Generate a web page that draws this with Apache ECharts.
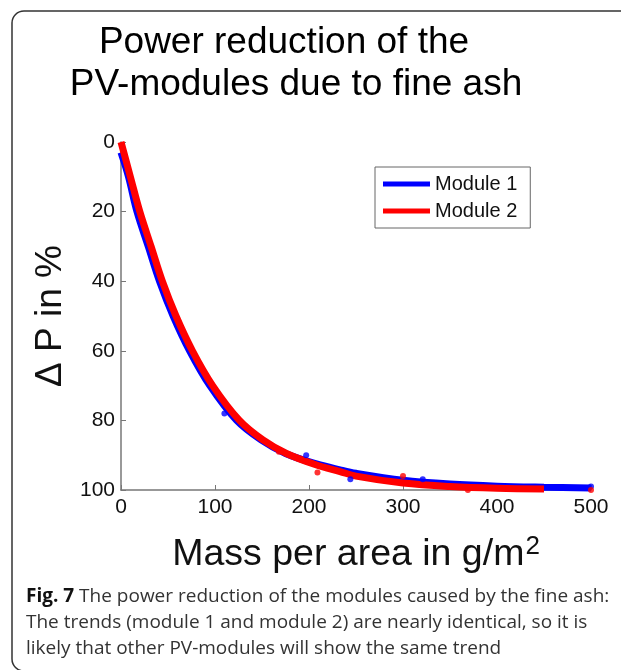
<!DOCTYPE html>
<html>
<head>
<meta charset="utf-8">
<script src="https://cdn.jsdelivr.net/npm/echarts@6/dist/echarts.min.js"></script>
<style>
html,body{margin:0;padding:0;background:#fff;}
#c{width:621px;height:670px;}
</style>
</head>
<body>
<div id="c"></div>
<script>
// ---- data ----
var titleLines = ['Power reduction of the', 'PV-modules due to fine ash'];
var xTicks = [0, 100, 200, 300, 400, 500];
var yTicks = [0, 20, 40, 60, 80, 100];
var seriesNames = ['Module 1', 'Module 2'];

// Module 1 (blue) trend: mass per area (g/m2) and power reduction (%)
var m1Mass = [0, 8, 17, 29, 41, 55.5, 73, 94.5, 123, 149, 175, 208, 233, 250, 300, 350, 400, 450, 500];
var m1dP   = [3, 10, 20, 30, 40, 50, 60, 70, 80, 85.6, 89.5, 92.5, 94.2, 95.2, 97.2, 98.3, 98.9, 99.2, 99.4];
// Module 2 (red) trend
var m2Mass = [0, 10, 20, 32, 44, 58.5, 76, 97.5, 126, 151, 176, 208, 233, 250, 300, 350, 400, 450];
var m2dP   = [0, 10, 20, 30, 40, 50, 60, 70, 80, 85.6, 89.5, 92.8, 94.7, 96, 98, 99, 99.5, 99.7];
// scattered single measurements off the trend
var m1OutMass = [110, 197, 244, 321, 500];
var m1OutdP   = [78, 90, 96.9, 96.9, 99];
var m2OutMass = [168, 209, 300, 369, 500];
var m2OutdP   = [89, 95, 96, 100, 100];

var captionBold = 'Fig. 7';
var captionLines = [
  ' The power reduction of the modules caused by the fine ash:',
  'The trends (module 1 and module 2) are nearly identical, so it is',
  'likely that other PV-modules will show the same trend'
];

function pairs(xs, ys) { return xs.map(function (x, i) { return [x, ys[i]]; }); }

var FONT = '"Liberation Sans", Arial, sans-serif';
var CAP = '"Open Sans", sans-serif';
var chart = echarts.init(document.getElementById('c'), null, {renderer: 'canvas'});

var titleStyle = {fontFamily: FONT, fontSize: 37, fontWeight: 'normal', color: '#000'};

chart.setOption({
  animation: false,
  backgroundColor: '#fff',
  title: [
    {text: titleLines[0], left: 284, top: 24, textAlign: 'center', padding: 0, textStyle: titleStyle},
    {text: titleLines[1], left: 296, top: 66, textAlign: 'center', padding: 0, textStyle: titleStyle}
  ],
  legend: {
    data: seriesNames,
    orient: 'vertical',
    left: 375, top: 167,
    icon: 'rect', itemWidth: 47, itemHeight: 5, itemGap: 7,
    padding: [7, 13, 7, 8],
    borderColor: '#666', borderWidth: 1, backgroundColor: '#fff',
    textStyle: {fontFamily: FONT, fontSize: 20, color: '#111'}
  },
  grid: {left: 121, right: 30, top: 142, bottom: 180, containLabel: false},
  xAxis: {
    type: 'value', min: xTicks[0], max: xTicks[xTicks.length - 1], interval: 100,
    name: 'Mass per area in g/m{sup|2}', nameLocation: 'middle', nameGap: 44,
    nameTextStyle: {fontFamily: FONT, fontSize: 37.5, color: '#111',
      rich: {sup: {fontFamily: FONT, fontSize: 26, color: '#111', verticalAlign: 'top', padding: [0, 0, 16, 1]}}},
    axisLine: {show: true, onZero: false, lineStyle: {color: '#777', width: 1.5}},
    axisTick: {show: true, inside: true, length: 5, lineStyle: {color: '#777'}},
    axisLabel: {fontFamily: FONT, fontSize: 21, color: '#111', margin: 7},
    splitLine: {show: false}
  },
  yAxis: {
    type: 'value', min: yTicks[0], max: yTicks[yTicks.length - 1], interval: 20, inverse: true,
    name: '\u0394 P in %', nameLocation: 'middle', nameGap: 50, nameRotate: 90,
    nameTextStyle: {fontFamily: FONT, fontSize: 37, color: '#111'},
    axisLine: {show: true, onZero: false, lineStyle: {color: '#777', width: 1.5}},
    axisTick: {show: true, inside: true, length: 5, lineStyle: {color: '#777'}},
    axisLabel: {fontFamily: FONT, fontSize: 21, color: '#111', margin: 6},
    splitLine: {show: false}
  },
  series: [
    {name: seriesNames[0], type: 'line', data: pairs(m1Mass, m1dP), smooth: 0.35,
      showSymbol: false, symbol: 'none', color: '#0000ff', lineStyle: {color: '#0000ff', width: 7}, z: 2},
    {name: seriesNames[1], type: 'line', data: pairs(m2Mass, m2dP), smooth: 0.35,
      showSymbol: false, symbol: 'none', color: '#ff0000', lineStyle: {color: '#ff0000', width: 7}, z: 3},
    {name: 'm1pts', type: 'scatter', data: pairs(m1OutMass, m1OutdP), symbolSize: 6,
      itemStyle: {color: '#0000ff'}, z: 4},
    {name: 'm2pts', type: 'scatter', data: pairs(m2OutMass, m2OutdP), symbolSize: 6,
      itemStyle: {color: '#ff0000'}, z: 4}
  ],
  graphic: [
    {type: 'rect', shape: {x: 12, y: 11, width: 700, height: 660, r: 12},
      style: {fill: 'none', stroke: '#333', lineWidth: 1.5}, z: 100},
    {type: 'text', left: 26, top: 587,
      style: {
        text: '{b|' + captionBold + '}{n|' + captionLines[0] + '}\n{n|' + captionLines[1] + '}\n{n|' + captionLines[2] + '}',
        rich: {
          b: {fontFamily: CAP, fontSize: 19, fontWeight: 'bold', fill: '#111', lineHeight: 26},
          n: {fontFamily: CAP, fontSize: 19, fill: '#333', lineHeight: 26}
        }
      }, z: 100}
  ]
});
</script>
</body>
</html>
